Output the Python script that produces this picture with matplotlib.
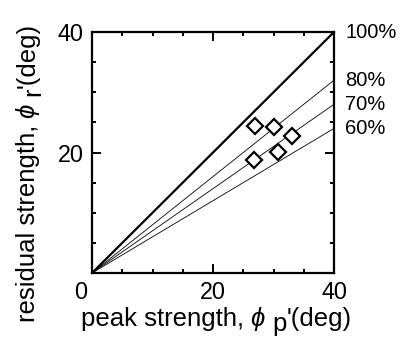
import matplotlib
matplotlib.use("Agg")
import matplotlib.pyplot as plt
import numpy as np
from matplotlib.ticker import MultipleLocator

plt.rcParams['font.family'] = ['Liberation Sans', 'DejaVu Sans']

# data
peak = [26.9, 30.1, 33.1, 30.8, 26.7]
residual = [24.4, 24.3, 22.8, 20.1, 18.8]
ratios = [1.0, 0.8, 0.7, 0.6]
ratio_labels = ["100%", "80%", "70%", "60%"]
ticks = [0, 20, 40]
tick_labels = ["0", "20", "40"]
xlabel_parts = ["peak strength, ", "ϕ ", "p", "'(deg)"]
ylabel_parts = ["residual strength, ", "ϕ ", "r", "'(deg)"]
part_styles = ['normal', 'italic', 'normal', 'normal']
part_lowered = [False, False, True, False]

W, H = 405, 345
fig = plt.figure(figsize=(W / 100, H / 100), dpi=100)
ax = fig.add_axes([92 / W, 72 / H, 242 / W, 241 / H])

xr = np.array([0, 40])
for r, lab in zip(ratios, ratio_labels):
    lw = 1.6 if r == 1.0 else 0.6
    ax.plot(xr, xr * r, color='black', lw=lw, solid_capstyle='butt', clip_on=False)
    ax.annotate(lab, xy=(40, 40 * r), xytext=(8, 0), textcoords='offset points',
                ha='left', va='center', fontsize=14.5, annotation_clip=False)

ax.plot(peak, residual, linestyle='none', marker='D', markersize=8.5,
        markerfacecolor='white', markeredgecolor='black', markeredgewidth=1.6, zorder=5)

ax.set_xlim(0, 40)
ax.set_ylim(0, 40)
ax.set_xticks(ticks)
ax.set_yticks(ticks)
ax.set_xticklabels([""] + tick_labels[1:])
ax.set_yticklabels([""] + tick_labels[1:])
ax.xaxis.set_minor_locator(MultipleLocator(5))
ax.yaxis.set_minor_locator(MultipleLocator(5))
ax.tick_params(which='both', direction='in', top=True, right=True, width=1.4)
ax.tick_params(which='major', length=6.5, labelsize=16.8, pad=6)
ax.tick_params(which='minor', length=3)
for s in ax.spines.values():
    s.set_linewidth(1.6)

ax.annotate(tick_labels[0], xy=(0, 0), xycoords='data', xytext=(-8, -6),
            textcoords='offset points', ha='center', va='top', fontsize=16.8,
            annotation_clip=False)

LFS = 18.5
DROP = 3.5

# x label in pieces (lowered subscript at full size)
first = fig.text(81 / W, 19 / H, xlabel_parts[0], ha='left', va='baseline',
                 fontsize=LFS, style=part_styles[0])
prev = first
for txt, st, low in zip(xlabel_parts[1:], part_styles[1:], part_lowered[1:]):
    prev = ax.annotate(txt, xy=(1, 0), xycoords=(prev, first),
                       xytext=(0, -DROP if low else 0), textcoords='offset points',
                       ha='left', va='bottom', fontsize=LFS, style=st)

# y label in pieces
first = fig.text(35 / W, 23 / H, ylabel_parts[0], rotation=90, rotation_mode='anchor',
                 ha='left', va='baseline', fontsize=LFS, style=part_styles[0])
prev = first
for txt, st, low in zip(ylabel_parts[1:], part_styles[1:], part_lowered[1:]):
    prev = ax.annotate(txt, xy=(1, 1), xycoords=(first, prev),
                       xytext=(DROP if low else 0, 0), textcoords='offset points',
                       rotation=90, rotation_mode='anchor',
                       ha='left', va='bottom', fontsize=LFS, style=st)

fig.savefig("out.png", dpi=100)
